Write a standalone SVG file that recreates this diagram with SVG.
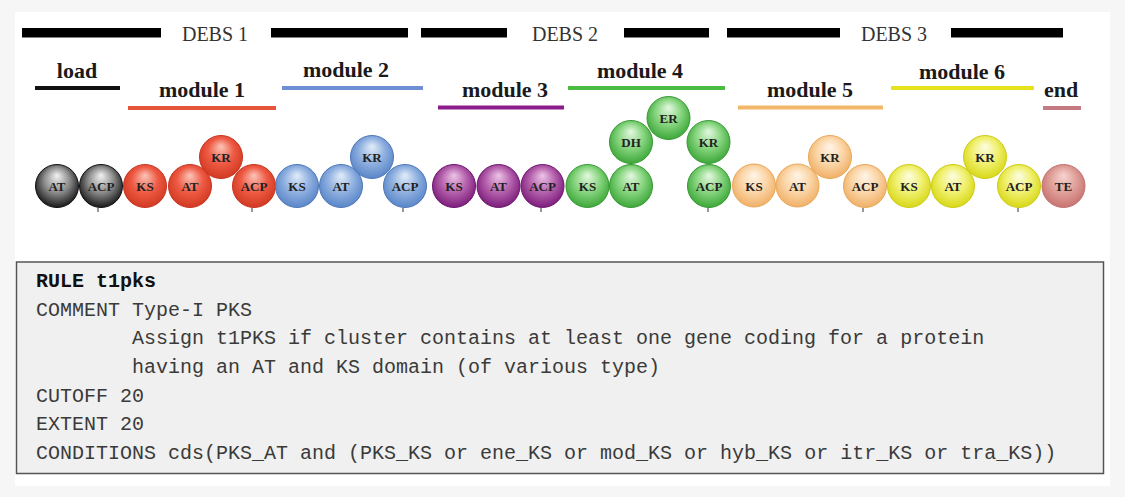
<svg xmlns="http://www.w3.org/2000/svg" width="1125" height="497" viewBox="0 0 1125 497">
  <defs>
    <style>
      .debs { font-family: "Liberation Serif", serif; font-size: 20px; fill: #333; text-anchor: middle; }
      .mod { font-family: "Liberation Serif", serif; font-size: 22px; font-weight: bold; fill: #1a1a1a; text-anchor: middle; }
      .bar { fill: #000; }
      .uline { stroke-width: 4; fill: none; }
      .dom { font-family: "Liberation Serif", serif; font-size: 13px; font-weight: bold; fill: #222; text-anchor: middle; }
      .tick { stroke: #333; stroke-width: 1; }
      .code { font-family: "Liberation Mono", "Courier New", monospace; font-size: 20px; fill: #3a3a3a; white-space: pre; }
      .codeb { font-family: "Liberation Mono", "Courier New", monospace; font-size: 20px; font-weight: bold; fill: #111; }
    </style>
    <radialGradient id="g-black" cx="0.5" cy="0.45" r="0.55" fx="0.5" fy="0.25">
      <stop offset="0" stop-color="#f2f2f2"/>
      <stop offset="0.55" stop-color="#8a8a8a"/>
      <stop offset="1" stop-color="#1a1a1a"/>
    </radialGradient>
    <radialGradient id="g-red" cx="0.5" cy="0.45" r="0.55" fx="0.5" fy="0.25">
      <stop offset="0" stop-color="#fbc4b8"/>
      <stop offset="0.55" stop-color="#ee5a44"/>
      <stop offset="1" stop-color="#d23a22"/>
    </radialGradient>
    <radialGradient id="g-blue" cx="0.5" cy="0.45" r="0.55" fx="0.5" fy="0.25">
      <stop offset="0" stop-color="#e2ecf8"/>
      <stop offset="0.55" stop-color="#8fb0e0"/>
      <stop offset="1" stop-color="#5a86c8"/>
    </radialGradient>
    <radialGradient id="g-purple" cx="0.5" cy="0.45" r="0.55" fx="0.5" fy="0.25">
      <stop offset="0" stop-color="#ecc4e6"/>
      <stop offset="0.55" stop-color="#b460ac"/>
      <stop offset="1" stop-color="#7c1e7c"/>
    </radialGradient>
    <radialGradient id="g-green" cx="0.5" cy="0.45" r="0.55" fx="0.5" fy="0.25">
      <stop offset="0" stop-color="#e4f8e0"/>
      <stop offset="0.55" stop-color="#86d47e"/>
      <stop offset="1" stop-color="#3ea83a"/>
    </radialGradient>
    <radialGradient id="g-orange" cx="0.5" cy="0.45" r="0.55" fx="0.5" fy="0.25">
      <stop offset="0" stop-color="#fff4e8"/>
      <stop offset="0.55" stop-color="#fbd6a8"/>
      <stop offset="1" stop-color="#f0b068"/>
    </radialGradient>
    <radialGradient id="g-yellow" cx="0.5" cy="0.45" r="0.55" fx="0.5" fy="0.25">
      <stop offset="0" stop-color="#fdfde4"/>
      <stop offset="0.55" stop-color="#f0f070"/>
      <stop offset="1" stop-color="#d8d818"/>
    </radialGradient>
    <radialGradient id="g-pink" cx="0.5" cy="0.45" r="0.55" fx="0.5" fy="0.25">
      <stop offset="0" stop-color="#f6d4d0"/>
      <stop offset="0.55" stop-color="#e0a09a"/>
      <stop offset="1" stop-color="#c87470"/>
    </radialGradient>
  </defs>

  <!-- page -->
  <rect x="0" y="0" width="1125" height="497" fill="#f6f6f6"/>
  <rect x="15" y="12" width="1095" height="474" fill="#ffffff"/>

  <!-- DEBS protein spans -->
  <g id="debs">
    <rect class="bar" x="22" y="28" width="139" height="9.5"/>
    <text class="debs" x="215" y="41">DEBS 1</text>
    <rect class="bar" x="271" y="28" width="137" height="9.5"/>
    <rect class="bar" x="421" y="28" width="86" height="9.5"/>
    <text class="debs" x="565" y="41">DEBS 2</text>
    <rect class="bar" x="624" y="28" width="85" height="9.5"/>
    <rect class="bar" x="727" y="28" width="113" height="9.5"/>
    <text class="debs" x="894" y="41">DEBS 3</text>
    <rect class="bar" x="951" y="28" width="112" height="9.5"/>
  </g>

  <!-- loading module -->
  <g id="load">
    <text class="mod" x="77" y="78">load</text>
    <line class="uline" x1="35" y1="88" x2="120" y2="88" stroke="#111"/>
    <circle cx="57" cy="186" r="21.5" fill="url(#g-black)" stroke="#111" stroke-width="1"/>
    <text class="dom" x="57" y="191">AT</text>
    <circle cx="101" cy="186" r="21.5" fill="url(#g-black)" stroke="#111" stroke-width="1"/>
    <text class="dom" x="101" y="191">ACP</text>
    <line class="tick" x1="98" y1="208" x2="98" y2="212"/>
  </g>

  <!-- module 1 -->
  <g id="module1">
    <text class="mod" x="202" y="97">module 1</text>
    <line class="uline" x1="128" y1="108" x2="276" y2="108" stroke="#e4553a"/>
    <circle cx="145" cy="186" r="21.5" fill="url(#g-red)" stroke="#c83420" stroke-width="1"/>
    <text class="dom" x="145" y="191">KS</text>
    <circle cx="190" cy="186" r="21.5" fill="url(#g-red)" stroke="#c83420" stroke-width="1"/>
    <text class="dom" x="190" y="191">AT</text>
    <circle cx="221" cy="157" r="21.5" fill="url(#g-red)" stroke="#c83420" stroke-width="1"/>
    <text class="dom" x="221" y="162">KR</text>
    <circle cx="254" cy="186" r="21.5" fill="url(#g-red)" stroke="#c83420" stroke-width="1"/>
    <text class="dom" x="254" y="191">ACP</text>
    <line class="tick" x1="252" y1="208" x2="252" y2="212"/>
  </g>

  <!-- module 2 -->
  <g id="module2">
    <text class="mod" x="346" y="77">module 2</text>
    <line class="uline" x1="282" y1="88" x2="423" y2="88" stroke="#6f8fd2"/>
    <circle cx="297" cy="186" r="21.5" fill="url(#g-blue)" stroke="#4e78b8" stroke-width="1"/>
    <text class="dom" x="297" y="191">KS</text>
    <circle cx="341" cy="186" r="21.5" fill="url(#g-blue)" stroke="#4e78b8" stroke-width="1"/>
    <text class="dom" x="341" y="191">AT</text>
    <circle cx="372" cy="157" r="21.5" fill="url(#g-blue)" stroke="#4e78b8" stroke-width="1"/>
    <text class="dom" x="372" y="162">KR</text>
    <circle cx="405" cy="186" r="21.5" fill="url(#g-blue)" stroke="#4e78b8" stroke-width="1"/>
    <text class="dom" x="405" y="191">ACP</text>
    <line class="tick" x1="403" y1="208" x2="403" y2="212"/>
  </g>

  <!-- module 3 -->
  <g id="module3">
    <text class="mod" x="505" y="97">module 3</text>
    <line class="uline" x1="438" y1="107.5" x2="564" y2="107.5" stroke="#8c1c8c"/>
    <circle cx="454" cy="186" r="21.5" fill="url(#g-purple)" stroke="#6e146e" stroke-width="1"/>
    <text class="dom" x="454" y="191">KS</text>
    <circle cx="498.5" cy="186" r="21.5" fill="url(#g-purple)" stroke="#6e146e" stroke-width="1"/>
    <text class="dom" x="498.5" y="191">AT</text>
    <circle cx="542.5" cy="186" r="21.5" fill="url(#g-purple)" stroke="#6e146e" stroke-width="1"/>
    <text class="dom" x="542.5" y="191">ACP</text>
    <line class="tick" x1="541" y1="208" x2="541" y2="212"/>
  </g>

  <!-- module 4 -->
  <g id="module4">
    <text class="mod" x="640" y="78">module 4</text>
    <line class="uline" x1="568" y1="88" x2="725" y2="88" stroke="#4cbb42"/>
    <circle cx="587.5" cy="186" r="21.5" fill="url(#g-green)" stroke="#359a31" stroke-width="1"/>
    <text class="dom" x="587.5" y="191">KS</text>
    <circle cx="631" cy="186" r="21.5" fill="url(#g-green)" stroke="#359a31" stroke-width="1"/>
    <text class="dom" x="631" y="191">AT</text>
    <circle cx="631" cy="142" r="21.5" fill="url(#g-green)" stroke="#359a31" stroke-width="1"/>
    <text class="dom" x="631" y="147">DH</text>
    <circle cx="668.5" cy="118" r="21.5" fill="url(#g-green)" stroke="#359a31" stroke-width="1"/>
    <text class="dom" x="668.5" y="123">ER</text>
    <circle cx="708.5" cy="142" r="21.5" fill="url(#g-green)" stroke="#359a31" stroke-width="1"/>
    <text class="dom" x="708.5" y="147">KR</text>
    <circle cx="709" cy="186" r="21.5" fill="url(#g-green)" stroke="#359a31" stroke-width="1"/>
    <text class="dom" x="709" y="191">ACP</text>
    <line class="tick" x1="708" y1="208" x2="708" y2="212"/>
  </g>

  <!-- module 5 -->
  <g id="module5">
    <text class="mod" x="810" y="97">module 5</text>
    <line class="uline" x1="738" y1="107.5" x2="883" y2="107.5" stroke="#f2b768"/>
    <circle cx="754" cy="185.5" r="21.5" fill="url(#g-orange)" stroke="#e8a858" stroke-width="1"/>
    <text class="dom" x="754" y="190.5">KS</text>
    <circle cx="797.5" cy="185.5" r="21.5" fill="url(#g-orange)" stroke="#e8a858" stroke-width="1"/>
    <text class="dom" x="797.5" y="190.5">AT</text>
    <circle cx="830" cy="157" r="21.5" fill="url(#g-orange)" stroke="#e8a858" stroke-width="1"/>
    <text class="dom" x="830" y="162">KR</text>
    <circle cx="865" cy="186" r="21.5" fill="url(#g-orange)" stroke="#e8a858" stroke-width="1"/>
    <text class="dom" x="865" y="191">ACP</text>
    <line class="tick" x1="863" y1="208" x2="863" y2="212"/>
  </g>

  <!-- module 6 -->
  <g id="module6">
    <text class="mod" x="962" y="79">module 6</text>
    <line class="uline" x1="891" y1="88" x2="1034" y2="88" stroke="#e6e21c"/>
    <circle cx="909" cy="186" r="21.5" fill="url(#g-yellow)" stroke="#cccc18" stroke-width="1"/>
    <text class="dom" x="909" y="191">KS</text>
    <circle cx="953" cy="186" r="21.5" fill="url(#g-yellow)" stroke="#cccc18" stroke-width="1"/>
    <text class="dom" x="953" y="191">AT</text>
    <circle cx="985" cy="157" r="21.5" fill="url(#g-yellow)" stroke="#cccc18" stroke-width="1"/>
    <text class="dom" x="985" y="162">KR</text>
    <circle cx="1019" cy="186" r="21.5" fill="url(#g-yellow)" stroke="#cccc18" stroke-width="1"/>
    <text class="dom" x="1019" y="191">ACP</text>
    <line class="tick" x1="1018" y1="208" x2="1018" y2="212"/>
  </g>

  <!-- thioesterase end -->
  <g id="end">
    <text class="mod" x="1061" y="97">end</text>
    <line class="uline" x1="1043" y1="108" x2="1081" y2="108" stroke="#c47a82"/>
    <circle cx="1063.5" cy="186" r="21.5" fill="url(#g-pink)" stroke="#c07070" stroke-width="1"/>
    <text class="dom" x="1063.5" y="191">TE</text>
  </g>

  <!-- no connectors in this figure -->
  <g id="connectors"/>

  <!-- rule definition -->
  <g id="rule">
    <rect x="16.5" y="262" width="1087" height="211.5" fill="#f0f0f0" stroke="#555" stroke-width="1.5"/>
    <text class="codeb" x="36" y="287">RULE t1pks</text>
    <text class="code" x="36" y="315.7">COMMENT Type-I PKS</text>
    <text class="code" x="132" y="344.4">Assign t1PKS if cluster contains at least one gene coding for a protein</text>
    <text class="code" x="132" y="373.1">having an AT and KS domain (of various type)</text>
    <text class="code" x="36" y="401.8">CUTOFF 20</text>
    <text class="code" x="36" y="430.4">EXTENT 20</text>
    <text class="code" x="36" y="459.1">CONDITIONS cds(PKS_AT and (PKS_KS or ene_KS or mod_KS or hyb_KS or itr_KS or tra_KS))</text>
  </g>
</svg>
